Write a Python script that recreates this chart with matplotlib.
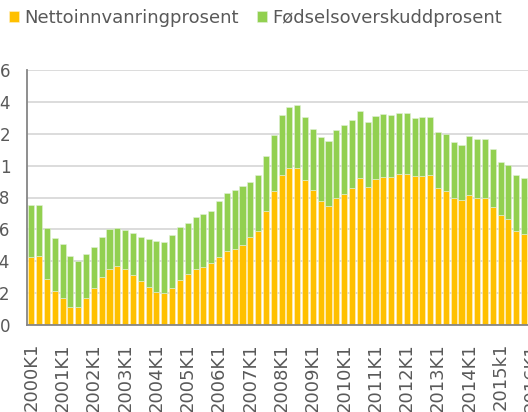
import matplotlib.pyplot as plt
import numpy as np

plt.rcParams["font.family"] = ["DejaVu Sans"]

# quarterly values, 2000K1 .. 2015K4
netto = [
    0.427, 0.431, 0.290, 0.215, 0.169, 0.115, 0.113, 0.169,
    0.233, 0.302, 0.352, 0.373, 0.352, 0.315, 0.275, 0.240,
    0.204, 0.198, 0.235, 0.285, 0.317, 0.352, 0.367, 0.390,
    0.427, 0.463, 0.475, 0.504, 0.550, 0.592, 0.713, 0.840,
    0.942, 0.985, 0.985, 0.910, 0.848, 0.779, 0.748, 0.798,
    0.821, 0.858, 0.925, 0.863, 0.915, 0.931, 0.929, 0.950,
    0.950, 0.935, 0.935, 0.942, 0.858, 0.838, 0.800, 0.785,
    0.813, 0.794, 0.800, 0.742, 0.688, 0.663, 0.592, 0.573,
]
fodsel = [
    0.327, 0.323, 0.320, 0.333, 0.341, 0.320, 0.291, 0.277,
    0.255, 0.248, 0.252, 0.237, 0.244, 0.260, 0.275, 0.298,
    0.321, 0.325, 0.328, 0.330, 0.325, 0.323, 0.327, 0.325,
    0.348, 0.363, 0.369, 0.371, 0.350, 0.350, 0.348, 0.354,
    0.373, 0.382, 0.396, 0.394, 0.383, 0.398, 0.408, 0.423,
    0.437, 0.427, 0.419, 0.413, 0.395, 0.394, 0.388, 0.381,
    0.379, 0.365, 0.371, 0.364, 0.352, 0.359, 0.350, 0.346,
    0.375, 0.375, 0.369, 0.362, 0.332, 0.340, 0.352, 0.350,
]
year_labels = [
    "2000K1", "2001K1", "2002K1", "2003K1", "2004K1", "2005K1", "2006K1",
    "2007K1", "2008K1", "2009K1", "2010K1", "2011K1", "2012K1", "2013K1",
    "2014K1", "2015k1", "2016K1",
]
y_ticks = [0, 0.2, 0.4, 0.6, 0.8, 1.0, 1.2, 1.4, 1.6]
y_labels = ["0", "0,2", "0,4", "0,6", "0,8", "1", "1,2", "1,4", "1,6"]

yellow = "#FFC000"
green = "#92D050"
text_color = "#595959"

fig = plt.figure(figsize=(5.28, 4.12), dpi=100)
ax = fig.add_axes([27 / 528, 87 / 412, 544 / 528, 255 / 412])

x = np.arange(len(netto))
ax.bar(x, netto, width=0.78, color=yellow, edgecolor="#FFF2CC", linewidth=0.4,
       label="Nettoinnvanringprosent", zorder=3)
ax.bar(x, fodsel, width=0.78, bottom=netto, color=green, edgecolor="#E2F0D9",
       linewidth=0.4, label="Fødselsoverskuddprosent", zorder=3)

ax.set_xlim(-0.55, 69)
ax.set_ylim(0, 1.6)
ax.set_yticks(y_ticks)
ax.set_yticklabels(y_labels)
ax.set_xticks(np.arange(len(year_labels)) * 4)
ax.set_xticklabels(year_labels, rotation=90)
ax.tick_params(axis="both", length=0, colors=text_color)
ax.tick_params(axis="x", pad=13, labelsize=13)
ax.tick_params(axis="y", pad=12, labelsize=12)

ax.grid(axis="y", color="#D9D9D9", linewidth=1.3, zorder=0)
for side in ("top", "right"):
    ax.spines[side].set_visible(False)
for side in ("left", "bottom"):
    ax.spines[side].set_color("#868686")
    ax.spines[side].set_linewidth(1.3)
ax.spines["left"].set_zorder(4)
ax.spines["bottom"].set_zorder(4)

fig.legend(loc="center left", bbox_to_anchor=(9 / 528, 1 - 18 / 412), ncol=2,
           frameon=False, fontsize=13, borderpad=0, borderaxespad=0,
           handlelength=0.55, handleheight=0.55, handletextpad=0.3,
           columnspacing=1.0, labelcolor=text_color)

fig.savefig("out.png", dpi=100)
